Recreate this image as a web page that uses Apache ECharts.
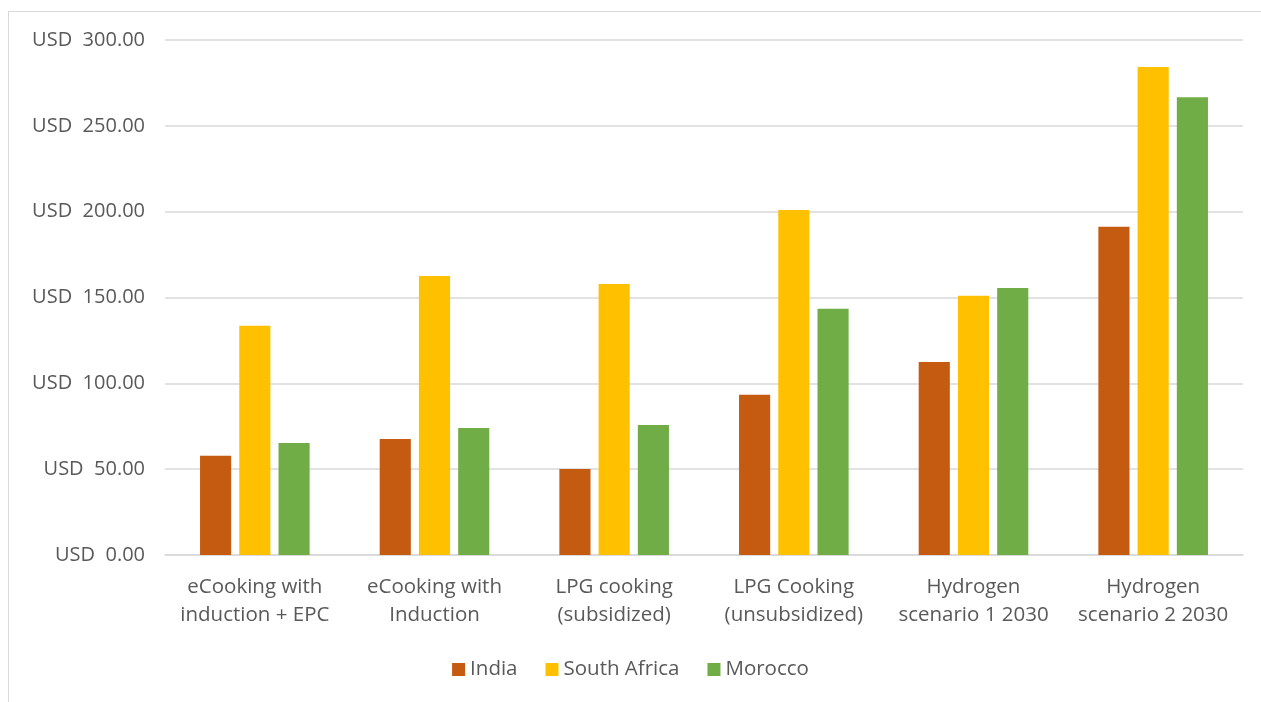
<!DOCTYPE html>
<html><head><meta charset="utf-8">
<script src="https://cdn.jsdelivr.net/npm/echarts@6/dist/echarts.min.js"></script>
<style>html,body{margin:0;padding:0;background:#fff;}#frame{position:absolute;left:8px;top:11px;width:1300px;height:800px;border-left:1.5px solid #d9d9d9;border-top:1.5px solid #d9d9d9;}#c{position:absolute;left:0;top:0;width:1261px;height:702px;}</style>
</head><body><div id="frame"></div><div id="c"></div>
<script>
const categories = ["eCooking with\ninduction + EPC","eCooking with\nInduction","LPG cooking\n(subsidized)","LPG Cooking\n(unsubsidized)","Hydrogen\nscenario 1 2030","Hydrogen\nscenario 2 2030"];
const india = [57.8, 67.6, 50.1, 93.3, 112.5, 191.2];
const southAfrica = [133.5, 162.5, 157.9, 201.0, 151.0, 284.2];
const morocco = [65.2, 74.0, 75.8, 143.4, 155.5, 266.7];
const yTicks = {min:0, max:300, interval:50};
const font = "'Open Sans', 'Noto Sans', sans-serif";
const chart = echarts.init(document.getElementById('c'));
chart.setOption({
  animation:false,
  textStyle:{fontFamily:font},
  grid:{left:165,right:18,top:40,bottom:147,containLabel:false},
  legend:{bottom:17,left:'center',itemWidth:13,itemHeight:13,itemGap:28,icon:'rect',
    textStyle:{color:'#595959',fontSize:20.5,fontFamily:font},
    data:['India','South Africa','Morocco']},
  xAxis:{type:'category',data:categories,
    axisLine:{lineStyle:{color:'#d9d9d9',width:1.5}},axisTick:{show:false},
    axisLabel:{color:'#595959',fontSize:20.5,lineHeight:28,margin:18,interval:0,fontFamily:font}},
  yAxis:{type:'value',min:yTicks.min,max:yTicks.max,interval:yTicks.interval,
    axisLine:{show:false},axisTick:{show:false},
    splitLine:{lineStyle:{color:'#d9d9d9',width:1.5}},
    axisLabel:{color:'#595959',fontSize:20,margin:20,fontFamily:font,
      formatter:v=>'USD  '+v.toFixed(2)}},
  series:[
    {name:'India',type:'bar',data:india,itemStyle:{color:'#C55A11'},barGap:'26%',barCategoryGap:'39%'},
    {name:'South Africa',type:'bar',data:southAfrica,itemStyle:{color:'#FFC000'}},
    {name:'Morocco',type:'bar',data:morocco,itemStyle:{color:'#70AD47'}}
  ]
});
</script></body></html>
